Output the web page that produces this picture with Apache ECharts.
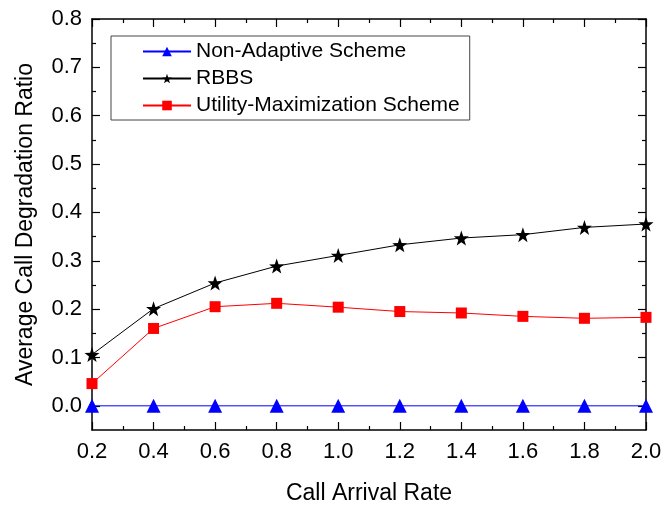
<!DOCTYPE html>
<html><head><meta charset="utf-8">
<script src="https://cdn.jsdelivr.net/npm/echarts@6/dist/echarts.min.js"></script>
<style>html,body{margin:0;padding:0;background:#fff}#c{width:664px;height:507px}</style>
</head><body><div id="c"></div>
<script>
const xValues = [0.2, 0.4, 0.6, 0.8, 1.0, 1.2, 1.4, 1.6, 1.8, 2.0];
const nonAdaptive = [0, 0, 0, 0, 0, 0, 0, 0, 0, 0];
const rbbs = [0.106, 0.201, 0.254, 0.289, 0.311, 0.333, 0.347, 0.354, 0.369, 0.376];
const utility = [0.046, 0.160, 0.205, 0.212, 0.204, 0.195, 0.192, 0.185, 0.181, 0.183];
const seriesNames = ['Non-Adaptive Scheme', 'RBBS', 'Utility-Maximization Scheme'];
const yTickValues = [0.0, 0.1, 0.2, 0.3, 0.4, 0.5, 0.6, 0.7, 0.8];
const yMinorTickValues = [0.05, 0.15, 0.25, 0.35, 0.45, 0.55, 0.65, 0.75];

const FONT = '"Liberation Sans", Arial, sans-serif';
const pair = arr => xValues.map((x, i) => [x, arr[i]]);
const lineSt = {color: '#000', width: 1.5};
const tickSt = {color: '#000', width: 1.2};
const yBase = {type: 'value', min: -0.05, max: 0.8, splitLine: {show: false}};

const chart = echarts.init(document.getElementById('c'));
chart.setOption({
  animation: false,
  backgroundColor: '#fff',
  textStyle: {fontFamily: FONT},
  grid: {left: 92, right: 18, top: 19, bottom: 77, containLabel: false, outerBoundsMode: 'none'},
  legend: {
    left: 111, top: 36, orient: 'vertical',
    data: seriesNames,
    itemWidth: 48, itemHeight: 12, itemGap: 6,
    borderColor: '#444', borderWidth: 1, padding: [5, 10, 4, 31],
    textStyle: {fontFamily: FONT, fontSize: 21, color: '#000'}
  },
  xAxis: [
    {
      type: 'value', position: 'bottom', min: 0.2, max: 2.0, interval: 0.2,
      axisLine: {show: true, onZero: false, lineStyle: lineSt},
      axisTick: {show: true, inside: true, length: 8, lineStyle: tickSt},
      minorTick: {show: true, splitNumber: 2, length: 4, lineStyle: tickSt},
      splitLine: {show: false},
      axisLabel: {color: '#000', fontSize: 22, fontFamily: FONT, margin: 11,
        formatter: v => v.toFixed(1)},
      name: 'Call Arrival Rate', nameLocation: 'middle', nameGap: 52,
      nameTextStyle: {color: '#000', fontSize: 23, fontFamily: FONT}
    },
    {
      type: 'value', position: 'top', min: 0.2, max: 2.0, interval: 0.2,
      axisLine: {show: true, onZero: false, lineStyle: lineSt},
      axisTick: {show: true, inside: true, length: 8, lineStyle: tickSt},
      minorTick: {show: true, splitNumber: 2, length: 4, lineStyle: tickSt},
      splitLine: {show: false},
      axisLabel: {show: false}
    }
  ],
  yAxis: [
    Object.assign({}, yBase, {
      position: 'left',
      axisLine: {show: true, onZero: false, lineStyle: lineSt},
      axisTick: {show: true, inside: true, length: 8, lineStyle: tickSt, customValues: yTickValues},
      axisLabel: {color: '#000', fontSize: 22, fontFamily: FONT, margin: 10,
        customValues: yTickValues, formatter: v => v.toFixed(1)},
      name: 'Average Call Degradation Ratio', nameLocation: 'middle', nameGap: 55,
      nameTextStyle: {color: '#000', fontSize: 23, fontFamily: FONT}
    }),
    Object.assign({}, yBase, {
      position: 'right',
      axisLine: {show: true, onZero: false, lineStyle: lineSt},
      axisTick: {show: true, inside: true, length: 8, lineStyle: tickSt, customValues: yTickValues},
      axisLabel: {show: false}
    }),
    Object.assign({}, yBase, {
      position: 'left',
      axisLine: {show: false},
      axisTick: {show: true, inside: true, length: 4, lineStyle: tickSt, customValues: yMinorTickValues},
      axisLabel: {show: false}
    }),
    Object.assign({}, yBase, {
      position: 'right',
      axisLine: {show: false},
      axisTick: {show: true, inside: true, length: 4, lineStyle: tickSt, customValues: yMinorTickValues},
      axisLabel: {show: false}
    })
  ],
  series: [
    {name: seriesNames[0], type: 'line', data: pair(nonAdaptive), symbol: 'triangle', symbolSize: 14,
      itemStyle: {color: '#0000ff'}, lineStyle: {color: '#0000ff', width: 1}, clip: false, z: 3},
    {name: seriesNames[1], type: 'line', data: pair(rbbs),
      symbol: 'path://M50,0 L61.8,35.1 L97.6,35.5 L69,57.3 L79.4,91.5 L50,71 L20.6,91.5 L31,57.3 L2.4,35.5 L38.2,35.1 Z',
      symbolSize: 15, itemStyle: {color: '#000'}, lineStyle: {color: '#000', width: 1}, clip: false, z: 4},
    {name: seriesNames[2], type: 'line', data: pair(utility), symbol: 'rect', symbolSize: 11,
      itemStyle: {color: '#ff0000'}, lineStyle: {color: '#ff0000', width: 1}, clip: false, z: 5}
  ]
});
</script></body></html>
